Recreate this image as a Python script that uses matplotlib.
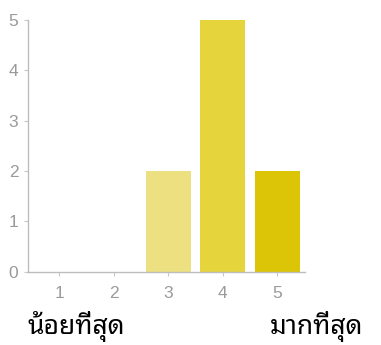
import matplotlib
matplotlib.use("Agg")
import matplotlib.pyplot as plt
from matplotlib import font_manager

categories = [1, 2, 3, 4, 5]
counts = [0, 0, 2, 5, 2]
bar_colors = ["#efe488", "#ebdc5c", "#ece080", "#e6d43c", "#dcc406"]
y_ticks = [0, 1, 2, 3, 4, 5]
low_label = "น้อยที่สุด"
high_label = "มากที่สุด"

# pick a Thai-capable family that is installed
available = {f.name for f in font_manager.fontManager.ttflist}
thai_candidates = ["Noto Sans Thai Looped", "Noto Sans Thai", "Sarabun", "Tahoma",
                   "Loma", "Garuda", "Anuphan", "Bai Jamjuree"]
thai_fonts = [f for f in thai_candidates if f in available] + ["DejaVu Sans"]

fig = plt.figure(figsize=(3.81, 3.45), dpi=100)
ax = fig.add_axes([0.0735, 0.212, 0.727, 0.73])

ax.bar(categories, counts, width=0.83, color=bar_colors, edgecolor="none")

ax.set_xlim(0.43, 5.51)
ax.set_ylim(0, 5)
ax.set_xticks(categories)
ax.set_yticks(y_ticks)
ax.tick_params(axis="both", colors="#c8c8c8", labelcolor="#9a9a9a",
               labelsize=12.5, length=3, width=0.8)
ax.tick_params(axis="x", pad=7)
ax.tick_params(axis="y", pad=4)
for lbl in ax.get_xticklabels() + ax.get_yticklabels():
    lbl.set_family(["Liberation Sans", "DejaVu Sans"])

for side in ["top", "right"]:
    ax.spines[side].set_visible(False)
for side in ["left", "bottom"]:
    ax.spines[side].set_color("#bdbdbd")
    ax.spines[side].set_linewidth(1.0)

fig.text(28 / 381, 1 - 334 / 345, low_label, family=thai_fonts, fontsize=19,
         color="black", ha="left", va="baseline")
fig.text(363 / 381, 1 - 334 / 345, high_label, family=thai_fonts, fontsize=19,
         color="black", ha="right", va="baseline")

fig.savefig("out.png", dpi=100)
